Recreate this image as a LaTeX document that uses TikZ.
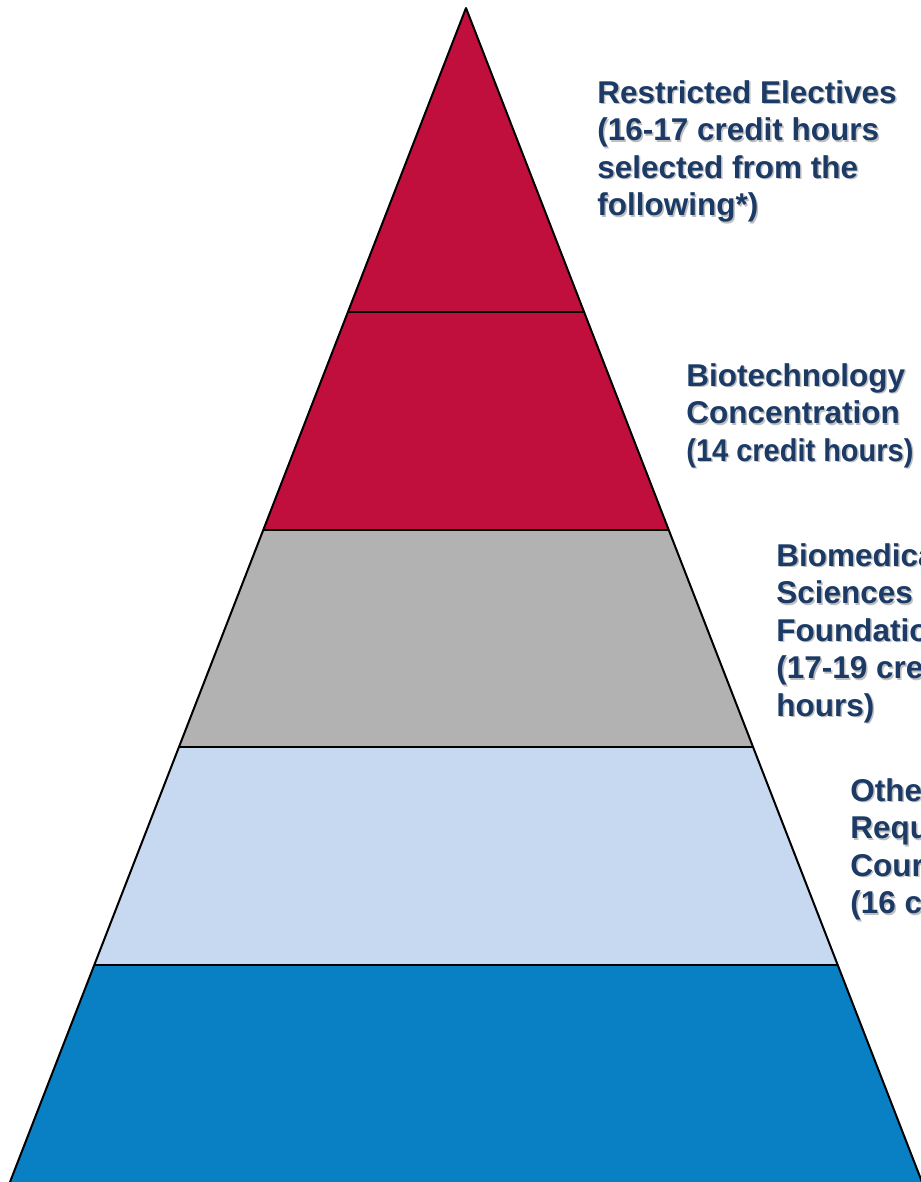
\documentclass[tikz,border=0pt]{standalone}
\usepackage{fontspec}
\setmainfont{Liberation Sans}
\usetikzlibrary{calc}

\definecolor{crimson}{HTML}{C00F3C}
\definecolor{midgray}{HTML}{B2B2B2}
\definecolor{paleblue}{HTML}{C6D9F0}
\definecolor{deepblue}{HTML}{0A80C4}
\definecolor{navytext}{HTML}{1B3A66}

\tikzset{
  edge/.style={draw=black,line width=1pt,line join=round},
  lbl/.style={anchor=north west,inner sep=0pt,align=left,
    font=\bfseries\fontsize{15.75}{18.75}\selectfont,text=navytext},
  lblshadow/.style={lbl,text=black,opacity=0.25}
}

% label with a soft drop shadow
\newcommand{\tierlabel}[3]{%
  \node[lblshadow] (#1-sh) at ($(#2)+(1.5,1.5)$) {#3};
  \node[lbl] (#1) at (#2) {#3};}

\begin{document}
\begin{tikzpicture}[x=0.5pt,y=-0.5pt]
\useasboundingbox (0,0) rectangle (920,1182);

% corners of the pyramid
\coordinate (apex) at (466,8);
\coordinate (bl) at (10,1182);
\coordinate (br) at (922,1182);

% band boundaries
\coordinate (l1) at (348,312);  \coordinate (r1) at (584,312);
\coordinate (l2) at (263,530);  \coordinate (r2) at (669,530);
\coordinate (l3) at (179,747);  \coordinate (r3) at (753,747);
\coordinate (l4) at (94,965);   \coordinate (r4) at (838,965);

\fill[crimson] (apex) -- (r1) -- (l1) -- cycle;
\fill[crimson] (l1) -- (r1) -- (r2) -- (l2) -- cycle;
\fill[midgray] (l2) -- (r2) -- (r3) -- (l3) -- cycle;
\fill[paleblue] (l3) -- (r3) -- (r4) -- (l4) -- cycle;
\fill[deepblue] (l4) -- (r4) -- (br) -- (bl) -- cycle;

\draw[edge] (bl) -- (apex) -- (br);
\draw[edge] (l1) -- (r1);
\draw[edge] (l2) -- (r2);
\draw[edge] (l3) -- (r3);
\draw[edge] (l4) -- (r4);

% labels
\coordinate (p1) at (597,80);
\coordinate (p2) at (686,363);
\coordinate (p3) at (776,543);
\coordinate (p4) at (850,778);

\tierlabel{electives}{p1}{Restricted Electives\\(16-17 credit hours\\selected from the\\following*)}
\tierlabel{biotech}{p2}{Biotechnology\\Concentration\\\scalebox{0.92}[1]{(14 credit hours)}}
\tierlabel{biomed}{p3}{Biomedical\\Sciences\\Foundation\\(17-19 credit\\hours)}
\tierlabel{other}{p4}{Other\\Required\\Courses\\(16 credit hours)}
\end{tikzpicture}
\end{document}
